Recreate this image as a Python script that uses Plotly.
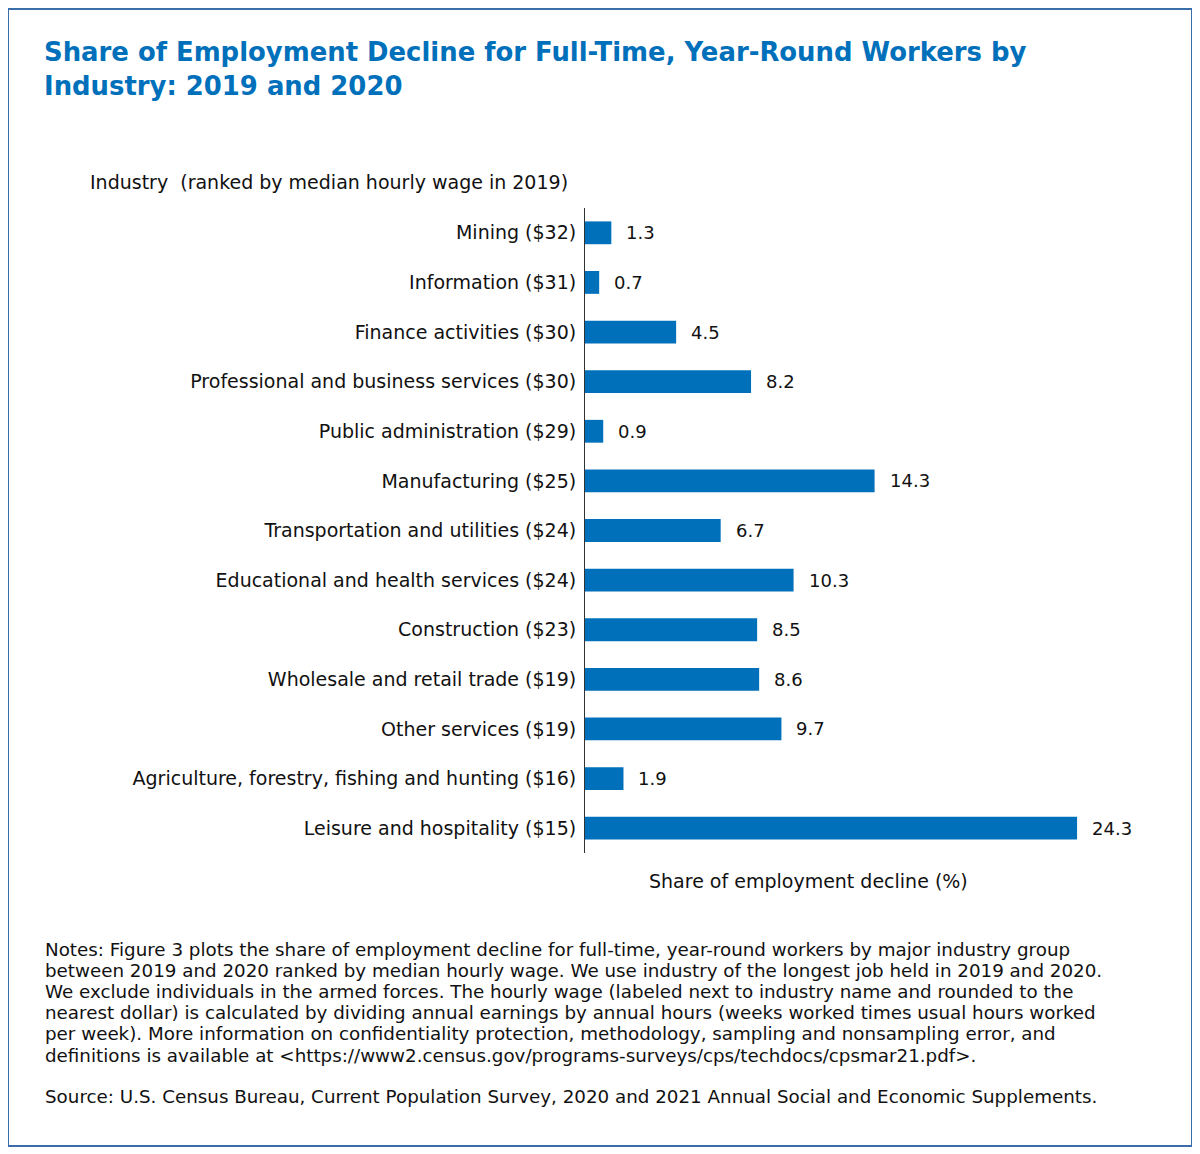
import plotly.graph_objects as go

industries = [
    "Mining ($32)",
    "Information ($31)",
    "Finance activities ($30)",
    "Professional and business services ($30)",
    "Public administration ($29)",
    "Manufacturing ($25)",
    "Transportation and utilities ($24)",
    "Educational and health services ($24)",
    "Construction ($23)",
    "Wholesale and retail trade ($19)",
    "Other services ($19)",
    "Agriculture, forestry, fishing and hunting ($16)",
    "Leisure and hospitality ($15)",
]
shares = [1.3, 0.7, 4.5, 8.2, 0.9, 14.3, 6.7, 10.3, 8.5, 8.6, 9.7, 1.9, 24.3]

title_lines = [
    "Share of Employment Decline for Full-Time, Year-Round Workers by",
    "Industry: 2019 and 2020",
]
y_axis_title = "Industry  (ranked by median hourly wage in 2019)"
x_axis_title = "Share of employment decline (%)"
notes_lines = [
    "Notes: Figure 3 plots the share of employment decline for full-time, year-round workers by major industry group",
    "between 2019 and 2020 ranked by median hourly wage. We use industry of the longest job held in 2019 and 2020.",
    "We exclude individuals in the armed forces. The hourly wage (labeled next to industry name and rounded to the",
    "nearest dollar) is calculated by dividing annual earnings by annual hours (weeks worked times usual hours worked",
    "per week). More information on confidentiality protection, methodology, sampling and nonsampling error, and",
    "definitions is available at &lt;https://www2.census.gov/programs-surveys/cps/techdocs/cpsmar21.pdf&gt;.",
]
source_line = "Source: U.S. Census Bureau, Current Population Survey, 2020 and 2021 Annual Social and Economic Supplements."

OFF = 8  # page offset of the figure inside the browser window
W, H = 1200 - OFF, 1154 - OFF
L, R = 585 - OFF, 48
T = 208 - OFF
B = H - (853 - OFF)
PW = W - L - R
PH = H - T - B


def px(x):
    return (x - OFF - L) / PW


def py(y):
    return (H - B - (y - OFF)) / PH


FONT = "DejaVu Sans"
BLUE = "#0070BB"
TXT = "#111111"
FS = 19

fig = go.Figure(
    go.Bar(
        x=shares,
        y=industries,
        orientation="h",
        marker=dict(color=BLUE, line=dict(width=0)),
        width=0.46,
        hoverinfo="x+y",
    )
)

annotations = []
for cat, v in zip(industries, shares):
    annotations.append(dict(
        x=v, y=cat, xref="x", yref="y", text=f"{v:.1f}", showarrow=False,
        xanchor="left", yanchor="middle", xshift=13,
        font=dict(family=FONT, size=18, color=TXT),
    ))
annotations.append(dict(
    x=px(42), y=py(69), xref="paper", yref="paper",
    text="<b>" + "<br>".join(title_lines) + "</b>", showarrow=False,
    xanchor="left", yanchor="middle", align="left",
    font=dict(family=FONT, size=25.9, color=BLUE),
))
annotations.append(dict(
    x=px(88), y=py(182), xref="paper", yref="paper", text=y_axis_title,
    showarrow=False, xanchor="left", yanchor="middle",
    font=dict(family=FONT, size=FS, color=TXT),
))
annotations.append(dict(
    x=px(808), y=py(881), xref="paper", yref="paper", text=x_axis_title,
    showarrow=False, xanchor="center", yanchor="middle",
    font=dict(family=FONT, size=FS, color=TXT),
))
for i, line in enumerate(notes_lines):
    annotations.append(dict(
        x=px(43), y=py(949 + i * 21.2), xref="paper", yref="paper", text=line,
        showarrow=False, xanchor="left", yanchor="middle",
        font=dict(family=FONT, size=18.3, color=TXT),
    ))
annotations.append(dict(
    x=px(43), y=py(1096), xref="paper", yref="paper", text=source_line,
    showarrow=False, xanchor="left", yanchor="middle",
    font=dict(family=FONT, size=18.3, color=TXT),
))

fig.update_layout(
    width=W, height=H,
    margin=dict(l=L, r=R, t=T, b=B, pad=0),
    paper_bgcolor="white", plot_bgcolor="white",
    showlegend=False,
    annotations=annotations,
    shapes=[dict(
        type="rect", xref="paper", yref="paper",
        x0=px(8), x1=px(1192), y0=py(1146), y1=py(9),
        line=dict(color="#3A6EA8", width=2), fillcolor="rgba(0,0,0,0)",
    )],
    xaxis=dict(range=[0, 28], showgrid=False, zeroline=False, showline=False,
               showticklabels=False, ticks=""),
    yaxis=dict(autorange="reversed", showgrid=False, zeroline=False,
               showline=True, linecolor="#333333", linewidth=1,
               ticks="", ticklabelstandoff=4,
               tickfont=dict(family=FONT, size=FS, color=TXT)),
)

fig.write_html("out.html")
